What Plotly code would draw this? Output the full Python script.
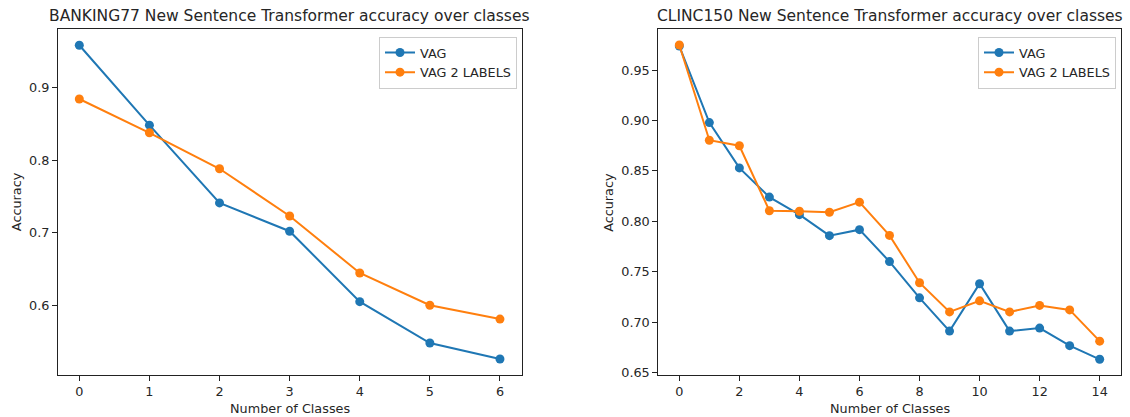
import plotly.graph_objects as go

# ---- data ----
banking_x = [0, 1, 2, 3, 4, 5, 6]
banking_vag = [0.958, 0.848, 0.741, 0.702, 0.605, 0.548, 0.526]
banking_vag2 = [0.884, 0.8375, 0.788, 0.723, 0.6445, 0.600, 0.581]

clinc_x = list(range(15))
clinc_vag = [0.974, 0.898, 0.853, 0.824, 0.8066, 0.7857, 0.7917, 0.760,
             0.724, 0.691, 0.738, 0.691, 0.694, 0.6765, 0.663]
clinc_vag2 = [0.975, 0.8805, 0.875, 0.8105, 0.810, 0.809, 0.819, 0.786,
              0.739, 0.710, 0.721, 0.710, 0.7165, 0.712, 0.681]

series_names = ["VAG", "VAG 2 LABELS"]
colors = ["#1f77b4", "#ff7f0e"]
titles = ["BANKING77 New Sentence Transformer accuracy over classes",
          "CLINC150 New Sentence Transformer accuracy over classes"]
x_title = "Number of Classes"
y_title = "Accuracy"
banking_yticks = [0.6, 0.7, 0.8, 0.9]
clinc_yticks = [0.65, 0.70, 0.75, 0.80, 0.85, 0.90, 0.95]
clinc_xticks = list(range(0, 15, 2))

W, H = 1130, 417
FONT = "DejaVu Sans"
FS = 12.8
TXT = "#262626"

# axes boxes in pixels: (left, right, top, bottom)
L_BOX = (58, 521.7, 29.3, 375)
R_BOX = (658.3, 1120.7, 29.3, 375)

fig = go.Figure()

def add_series(x, ys, xa, ya, legend):
    for name, y, c in zip(series_names, ys, colors):
        fig.add_trace(go.Scatter(
            x=x, y=y, name=name, mode="lines+markers",
            line=dict(color=c, width=2), marker=dict(color=c, size=9),
            xaxis=xa, yaxis=ya, legend=legend))

add_series(banking_x, [banking_vag, banking_vag2], "x", "y", "legend")
add_series(clinc_x, [clinc_vag, clinc_vag2], "x2", "y2", "legend2")

def px_x(p):
    return p / W

def px_y(p):
    return 1 - p / H

axis_common = dict(showline=True, linecolor="#222222", linewidth=1, mirror=True,
                   ticks="outside", ticklen=5, tickcolor="#222222", showgrid=False,
                   zeroline=False, tickfont=dict(family=FONT, size=FS, color=TXT))

legend_common = dict(xanchor="right", yanchor="top", bordercolor="#cccccc", borderwidth=1,
                     bgcolor="rgba(255,255,255,0.8)", font=dict(family=FONT, size=FS, color=TXT),
                     tracegroupgap=0)

fig.update_layout(
    width=W, height=H, margin=dict(l=0, r=0, t=0, b=0, autoexpand=False),
    paper_bgcolor="white", plot_bgcolor="white",
    font=dict(family=FONT, color=TXT),
    xaxis=dict(domain=[px_x(L_BOX[0]), px_x(L_BOX[1])], range=[-0.304, 6.31],
               tickvals=banking_x, anchor="y", **axis_common),
    yaxis=dict(domain=[px_y(L_BOX[3]), px_y(L_BOX[2])], range=[0.504, 0.980],
               tickvals=banking_yticks, ticktext=[f"{v:.1f}" for v in banking_yticks],
               anchor="x", **axis_common),
    xaxis2=dict(domain=[px_x(R_BOX[0]), px_x(R_BOX[1])], range=[-0.7, 14.7],
                tickvals=clinc_xticks, anchor="y2", **axis_common),
    yaxis2=dict(domain=[px_y(R_BOX[3]), px_y(R_BOX[2])], range=[0.6474, 0.9906],
                tickvals=clinc_yticks, ticktext=[f"{v:.2f}" for v in clinc_yticks],
                anchor="x2", **axis_common),
    legend=dict(x=px_x(L_BOX[1] - 4.7), y=px_y(36.7), **legend_common),
    legend2=dict(x=px_x(R_BOX[1] - 4.7), y=px_y(36.7), **legend_common),
    showlegend=True,
)

for box, t, ytx in [(L_BOX, titles[0], 16), (R_BOX, titles[1], 607.7)]:
    cx = (box[0] + box[1]) / 2
    fig.add_annotation(text=t, x=px_x(cx), y=px_y(16), xref="paper", yref="paper",
                       xanchor="center", yanchor="middle", showarrow=False,
                       font=dict(family=FONT, size=15.5, color=TXT))
    fig.add_annotation(text=x_title, x=px_x(cx), y=px_y(408), xref="paper", yref="paper",
                       xanchor="center", yanchor="middle", showarrow=False,
                       font=dict(family=FONT, size=FS, color=TXT))
    fig.add_annotation(text=y_title, x=px_x(ytx), y=px_y((box[2] + box[3]) / 2),
                       xref="paper", yref="paper", textangle=-90,
                       xanchor="center", yanchor="middle", showarrow=False,
                       font=dict(family=FONT, size=FS, color=TXT))

fig.write_html("out.html",
               config={"displayModeBar": False},
               post_script="document.body.style.margin='0';document.body.style.overflow='hidden';")
